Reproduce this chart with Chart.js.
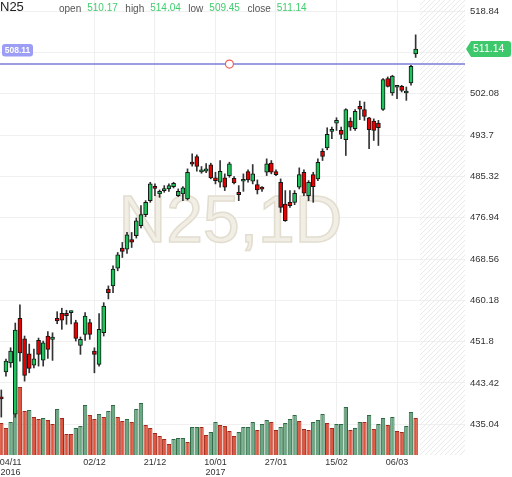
<!DOCTYPE html>
<html>
<head>
<meta charset="utf-8">
<script src="https://cdn.jsdelivr.net/npm/chart.js@4.4.1/dist/chart.umd.min.js"></script>
<style>
  html, body { margin: 0; padding: 0; background: #fff; }
  #wrap { width: 512px; height: 477px; }
</style>
</head>
<body>
<div id="wrap"><canvas id="chart" width="512" height="477"></canvas></div>
<script>
const symbol = 'N25';
const interval = '1D';

// daily OHLC
const opens = [440.5, 445.68, 447.5, 437.07, 456.54, 452.39, 449.34, 447.04, 452.07, 448.06,
  452.94, 452.27, 456.54, 457.56, 457.56, 457.7, 455.65, 451.05, 453.29, 455.65,
  449.89, 447.18, 453.6, 462.44, 463.11, 466.71, 470.78, 470.58, 472.53, 473.28,
  475.32, 477.56, 480.4, 483.0, 481.76, 482.44, 482.78, 483.25, 481.42, 481.76,
  480.75, 487.9, 489.35, 486.24, 486.37, 487.66, 485.02, 484.13, 485.02, 485.49,
  484.94, 482.1, 484.33, 486.3, 484.33, 483.66, 482.8, 486.16, 488.0, 486.3,
  484.13, 479.73, 480.06, 480.06, 483.11, 486.16, 481.42, 485.69, 484.82, 490.43,
  491.12, 494.44, 496.13, 494.64, 492.75, 496.54, 494.99, 499.52, 498.85, 497.22,
  496.54, 496.13, 498.91, 505.16, 502.23, 503.4, 503.59, 502.23, 504.26, 510.17];
const highs = [442.0, 448.26, 450.56, 455.58, 459.25, 452.94, 451.31, 450.29, 452.53, 451.92,
  453.82, 453.6, 457.88, 458.58, 458.17, 458.0, 456.14, 452.74, 457.68, 456.34,
  450.56, 457.48, 459.71, 463.11, 467.18, 469.89, 471.92, 473.95, 473.95, 476.88,
  479.39, 480.4, 484.13, 483.8, 482.57, 483.45, 483.8, 484.13, 482.78, 483.25,
  486.85, 489.9, 489.7, 487.32, 487.93, 488.0, 486.16, 488.54, 485.83, 488.2,
  485.29, 483.45, 485.83, 486.64, 487.73, 484.61, 483.25, 488.88, 488.54, 486.64,
  484.81, 482.44, 482.44, 482.44, 487.05, 486.64, 484.47, 486.16, 488.88, 490.92,
  495.19, 495.31, 497.22, 495.31, 499.05, 497.22, 498.85, 500.6, 500.4, 497.3,
  496.99, 496.68, 505.16, 505.5, 505.83, 503.8, 503.8, 503.45, 507.86, 514.04];
const lows = [436.5, 444.8, 446.6, 436.46, 447.86, 443.79, 445.48, 446.49, 446.84, 446.84,
  448.4, 448.0, 455.44, 454.3, 455.32, 455.4, 451.92, 449.22, 452.07, 452.27,
  445.48, 446.84, 452.94, 460.47, 461.75, 466.17, 468.87, 469.68, 470.9, 472.81,
  474.85, 477.15, 480.06, 481.42, 481.07, 482.1, 482.29, 482.98, 481.22, 480.4,
  480.54, 487.4, 486.37, 485.96, 486.1, 484.82, 483.8, 483.11, 482.44, 485.15,
  483.8, 480.4, 482.29, 484.13, 483.8, 481.76, 482.29, 485.49, 485.83, 485.49,
  478.02, 476.2, 479.04, 479.59, 482.78, 481.42, 480.4, 480.06, 484.47, 488.54,
  490.72, 492.95, 494.64, 492.95, 489.56, 494.64, 494.64, 496.82, 496.68, 490.92,
  492.61, 491.59, 498.71, 503.45, 501.76, 501.09, 502.44, 500.74, 503.8, 509.45];
const closes = [440.2, 447.86, 449.9, 454.16, 449.54, 444.95, 446.37, 448.32, 449.22, 451.58,
  450.23, 452.74, 455.99, 456.14, 457.07, 457.8, 452.47, 452.27, 457.01, 453.29,
  449.22, 454.3, 459.04, 461.75, 466.51, 469.42, 470.09, 473.49, 472.0, 476.33,
  477.56, 480.06, 483.8, 482.9, 482.29, 482.84, 483.45, 483.92, 482.29, 482.98,
  486.16, 487.8, 487.32, 486.65, 486.85, 485.02, 484.47, 486.37, 483.11, 487.86,
  484.0, 481.63, 484.61, 484.61, 485.83, 482.57, 482.75, 487.86, 486.16, 485.69,
  479.04, 476.33, 479.39, 481.9, 485.69, 481.9, 484.13, 483.25, 488.19, 489.35,
  493.83, 494.78, 496.68, 493.83, 498.85, 495.31, 498.51, 498.97, 497.49, 494.78,
  494.64, 495.19, 504.95, 503.59, 505.69, 503.5, 502.78, 502.63, 507.66, 511.14];
const volumes = [32, 27, 33, 45, 68, 44, 45, 38, 36, 37,
  35, 31, 46, 37, 21, 21, 27, 29, 50, 40,
  36, 41, 38, 44, 50, 38, 34, 36, 33, 46,
  52, 30, 27, 22, 19, 16, 11, 16, 17, 17,
  13, 28, 28, 28, 20, 23, 33, 30, 29, 24,
  19, 23, 28, 28, 33, 25, 31, 35, 33, 25,
  28, 32, 36, 40, 34, 26, 25, 33, 35, 41,
  32, 27, 31, 31, 48, 25, 27, 33, 33, 40,
  26, 31, 37, 30, 38, 24, 23, 29, 43, 37];
const volumeUp = [0, 0, 1, 1, 0, 0, 1, 0, 0, 1,
  0, 0, 1, 0, 0, 0, 1, 1, 1, 0,
  0, 1, 0, 1, 1, 0, 0, 1, 0, 1,
  1, 0, 0, 0, 0, 0, 0, 1, 1, 1,
  0, 1, 1, 0, 0, 1, 1, 0, 0, 0,
  0, 1, 1, 1, 1, 0, 1, 1, 0, 0,
  1, 1, 1, 1, 0, 0, 0, 1, 1, 1,
  0, 0, 1, 1, 1, 0, 1, 1, 0, 1,
  0, 1, 1, 0, 1, 0, 0, 1, 1, 0];

const priceTicks = [435.04, 443.42, 451.8, 460.18, 468.56, 476.94, 485.32, 493.7, 502.08, 510.46, 518.84];
const dateTickIdx = [2, 20, 33, 46, 59, 72, 85];
const dateTickLabels = [['04/11', '2016'], '02/12', '21/12', ['10/01', '2017'], '27/01', '15/02', '06/03'];
const alertLevel = [508.11];
const alertMarkIdx = [49];

const FONT = "'Liberation Sans', Arial, sans-serif";
Chart.defaults.font.family = FONT;

const idx = closes.map((_, i) => i);
const GREEN = '#1fc35c';
const RED = '#e60000';

function roundRect(ctx, x, y, w, h, r) {
    ctx.beginPath();
    ctx.moveTo(x + r, y);
    ctx.lineTo(x + w - r, y);
    ctx.quadraticCurveTo(x + w, y, x + w, y + r);
    ctx.lineTo(x + w, y + h - r);
    ctx.quadraticCurveTo(x + w, y + h, x + w - r, y + h);
    ctx.lineTo(x + r, y + h);
    ctx.quadraticCurveTo(x, y + h, x, y + h - r);
    ctx.lineTo(x, y + r);
    ctx.quadraticCurveTo(x, y, x + r, y);
    ctx.closePath();
}

const overlay = {
    id: 'overlay',
    beforeDatasetsDraw(chart) {
        const {ctx, chartArea: a, scales} = chart;
        ctx.save();
        // empty "future" area, hatched
        const hx = scales.x.getPixelForValue(closes.length - 0.05);
        ctx.beginPath();
        ctx.rect(hx, a.top, a.right - hx, a.bottom - a.top);
        ctx.clip();
        ctx.strokeStyle = '#e9e9e9';
        ctx.lineWidth = 1;
        const h = a.bottom - a.top;
        for (let x = hx - h; x < a.right; x += 5) {
            ctx.beginPath();
            ctx.moveTo(x, a.bottom);
            ctx.lineTo(x + h, a.top);
            ctx.stroke();
        }
        ctx.restore();

        // watermark
        ctx.save();
        ctx.font = '66px ' + FONT;
        ctx.textAlign = 'center';
        ctx.textBaseline = 'middle';
        ctx.fillStyle = '#f1eee6';
        ctx.strokeStyle = '#e3ddcf';
        ctx.lineWidth = 1.5;
        const wx = (a.left + a.right) / 2 - 2;
        const wy = 224;
        ctx.fillText(symbol + ',' + interval, wx, wy);
        ctx.strokeText(symbol + ',' + interval, wx, wy);
        ctx.restore();
    },
    afterDatasetsDraw(chart) {
        const {ctx, chartArea: a, scales} = chart;
        const ly = scales.y.getPixelForValue(alertLevel[0]);
        ctx.save();
        ctx.strokeStyle = '#7b7dd6';
        ctx.lineWidth = 1.6;
        ctx.beginPath();
        ctx.moveTo(a.left, ly);
        ctx.lineTo(a.right, ly);
        ctx.stroke();

        const cx = scales.x.getPixelForValue(alertMarkIdx[0]);
        ctx.beginPath();
        ctx.arc(cx, ly, 4, 0, Math.PI * 2);
        ctx.fillStyle = '#fff';
        ctx.fill();
        ctx.strokeStyle = '#f25b5b';
        ctx.lineWidth = 1.2;
        ctx.stroke();

        // alert label
        roundRect(ctx, a.left + 2, ly - 20, 31, 12.5, 3);
        ctx.fillStyle = '#9c9df4';
        ctx.fill();
        ctx.fillStyle = '#fff';
        ctx.font = 'bold 8.5px ' + FONT;
        ctx.textAlign = 'center';
        ctx.textBaseline = 'middle';
        ctx.fillText(alertLevel[0].toFixed(2), a.left + 17.5, ly - 13.5);
        ctx.restore();
    },
    afterDraw(chart) {
        const {ctx, chartArea: a, scales} = chart;
        const last = closes.length - 1;
        ctx.save();
        // last price badge
        const py = scales.y.getPixelForValue(closes[last]);
        const bx = a.right + 1;
        ctx.beginPath();
        ctx.moveTo(bx, py);
        ctx.lineTo(bx + 5, py - 8);
        ctx.lineTo(bx + 42, py - 8);
        ctx.quadraticCurveTo(bx + 45, py - 8, bx + 45, py - 5);
        ctx.lineTo(bx + 45, py + 5);
        ctx.quadraticCurveTo(bx + 45, py + 8, bx + 42, py + 8);
        ctx.lineTo(bx + 5, py + 8);
        ctx.closePath();
        ctx.fillStyle = '#3ec86c';
        ctx.fill();
        ctx.fillStyle = '#fff';
        ctx.font = '10.5px ' + FONT;
        ctx.textBaseline = 'middle';
        ctx.textAlign = 'left';
        ctx.fillText(closes[last].toFixed(2), bx + 7, py + 0.5);

        // header
        ctx.textBaseline = 'alphabetic';
        ctx.fillStyle = '#222';
        ctx.font = '13px ' + FONT;
        ctx.fillText(symbol, 0, 11);
        ctx.font = '10px ' + FONT;
        const parts = [['open', opens[last]], ['high', highs[last]], ['low', lows[last]], ['close', closes[last]]];
        let x = 59;
        parts.forEach(([name, val]) => {
            ctx.fillStyle = '#555';
            ctx.fillText(name, x, 11.5);
            x += ctx.measureText(name).width + 6;
            const t = val.toFixed(2);
            ctx.fillStyle = '#3fce6e';
            ctx.fillText(t, x, 11);
            x += ctx.measureText(t).width + 7.5;
        });
        ctx.restore();
    }
};

const ctx = document.getElementById('chart').getContext('2d');
new Chart(ctx, {
    data: {
        datasets: [
            {
                type: 'bar',
                label: 'body',
                order: 0,
                yAxisID: 'y',
                grouped: false,
                data: idx.map(i => ({x: i, y: [opens[i], closes[i]]})),
                backgroundColor: idx.map(i => closes[i] >= opens[i] ? GREEN : RED),
                borderColor: '#151515',
                borderWidth: 1,
                borderSkipped: false,
                barThickness: 4,
                minBarLength: 2
            },
            {
                type: 'bar',
                label: 'wick',
                order: 1,
                yAxisID: 'y',
                grouped: false,
                data: idx.map(i => ({x: i, y: [lows[i], highs[i]]})),
                backgroundColor: '#333',
                borderWidth: 0,
                barThickness: 1
            },
            {
                type: 'bar',
                label: 'volume',
                order: 2,
                yAxisID: 'yv',
                grouped: false,
                data: idx.map(i => ({x: i, y: volumes[i]})),
                backgroundColor: idx.map(i => volumeUp[i] ? '#6ba883' : '#e0553d'),
                borderColor: idx.map(i => volumeUp[i] ? '#2f6a46' : '#a0291b'),
                borderWidth: 1,
                barPercentage: 0.94,
                categoryPercentage: 1
            }
        ]
    },
    options: {
        responsive: false,
        animation: false,
        layout: { padding: 0 },
        plugins: { legend: { display: false }, tooltip: { enabled: false } },
        scales: {
            x: {
                type: 'linear',
                min: -0.28,
                max: 99.6,
                offset: false,
                afterBuildTicks: s => { s.ticks = dateTickIdx.map(v => ({value: v})); },
                ticks: {
                    autoSkip: false,
                    maxRotation: 0,
                    padding: 3,
                    color: '#333',
                    font: { size: 9, lineHeight: 1.05 },
                    callback: (v, i) => dateTickLabels[i]
                },
                grid: {
                    offset: false,
                    drawTicks: false,
                    color: c => (c.tick && c.tick.value === dateTickIdx[0]) ? 'rgba(0,0,0,0)' : '#efefef'
                },
                border: { display: false },
                afterFit: s => { s.height = 22; s.paddingLeft = 0; s.paddingRight = 0; }
            },
            y: {
                position: 'right',
                min: 428.81,
                max: 521.1,
                afterBuildTicks: s => { s.ticks = priceTicks.map(v => ({value: v})); },
                ticks: {
                    padding: 5,
                    color: '#333',
                    font: { size: 9.5 },
                    callback: v => String(v)
                },
                grid: { drawTicks: false, color: '#f0f0f0' },
                border: { display: false },
                afterFit: s => { s.width = 47; s.paddingTop = 0; s.paddingBottom = 0; }
            },
            yv: {
                display: false,
                position: 'left',
                min: 0,
                max: 455
            }
        }
    },
    plugins: [overlay]
});
</script>
</body>
</html>
